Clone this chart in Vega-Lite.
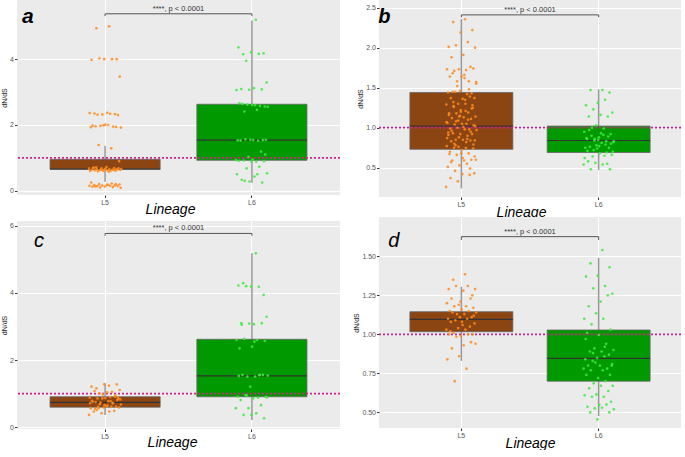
{
  "$schema": "https://vega.github.io/schema/vega-lite/v6.json",
  "padding": 0,
  "background": "#FFFFFF",
  "datasets": {
    "a_box": [
      {"lineage": "L5", "lo": 0.27, "q1": 0.65, "med": 0.66, "q3": 0.955, "hi": 1.36},
      {"lineage": "L6", "lo": 0.24, "q1": 0.925, "med": 1.54, "q3": 2.63, "hi": 5.18}
    ],
    "b_box": [
      {"lineage": "L5", "lo": 0.24, "q1": 0.73, "med": 1.02, "q3": 1.44, "hi": 2.355},
      {"lineage": "L6", "lo": 0.47, "q1": 0.69, "med": 0.84, "q3": 1.02, "hi": 1.48}
    ],
    "c_box": [
      {"lineage": "L5", "lo": 0.37, "q1": 0.6, "med": 0.74, "q3": 0.91, "hi": 1.31},
      {"lineage": "L6", "lo": 0.22, "q1": 0.91, "med": 1.53, "q3": 2.62, "hi": 5.18}
    ],
    "d_box": [
      {"lineage": "L5", "lo": 0.83, "q1": 1.017, "med": 1.096, "q3": 1.145, "hi": 1.305},
      {"lineage": "L6", "lo": 0.477, "q1": 0.70, "med": 0.846, "q3": 1.028, "hi": 1.49}
    ],
    "a_sig": [{"from": "L5", "to": "L6", "y": 5.38, "yend": 5.31, "label": "****, p < 0.0001"}],
    "b_sig": [{"from": "L5", "to": "L6", "y": 2.41, "yend": 2.38, "label": "****, p < 0.0001"}],
    "c_sig": [{"from": "L5", "to": "L6", "y": 5.77, "yend": 5.70, "label": "****, p < 0.0001"}],
    "d_sig": [{"from": "L5", "to": "L6", "y": 1.626, "yend": 1.605, "label": "****, p < 0.0001"}],
    "ref": [{"ref": 1}],
    "a_pts": [
      {"lineage":"L5","dnds":5.0},{"lineage":"L5","dnds":4.94},{"lineage":"L5","dnds":4.0},{"lineage":"L5","dnds":4.0},{"lineage":"L5","dnds":3.98},{"lineage":"L5","dnds":4.0},{"lineage":"L5","dnds":4.02},{"lineage":"L5","dnds":3.47},
      {"lineage":"L5","dnds":2.37},{"lineage":"L5","dnds":2.35},{"lineage":"L5","dnds":2.33},{"lineage":"L5","dnds":2.32},{"lineage":"L5","dnds":2.36},{"lineage":"L5","dnds":2.34},{"lineage":"L5","dnds":2.31},{"lineage":"L5","dnds":2.30},
      {"lineage":"L5","dnds":2.01},{"lineage":"L5","dnds":1.98},{"lineage":"L5","dnds":1.95},{"lineage":"L5","dnds":1.97},{"lineage":"L5","dnds":1.92},{"lineage":"L5","dnds":2.0},{"lineage":"L5","dnds":1.96},{"lineage":"L5","dnds":1.94},{"lineage":"L5","dnds":1.99},{"lineage":"L5","dnds":1.93},
      {"lineage":"L5","dnds":1.29},{"lineage":"L5","dnds":1.39},{"lineage":"L5","dnds":0.9},
      {"lineage":"L5","dnds":0.72},{"lineage":"L5","dnds":0.70},{"lineage":"L5","dnds":0.69},{"lineage":"L5","dnds":0.68},{"lineage":"L5","dnds":0.67},{"lineage":"L5","dnds":0.66},{"lineage":"L5","dnds":0.66},{"lineage":"L5","dnds":0.65},{"lineage":"L5","dnds":0.65},{"lineage":"L5","dnds":0.64},
      {"lineage":"L5","dnds":0.64},{"lineage":"L5","dnds":0.63},{"lineage":"L5","dnds":0.63},{"lineage":"L5","dnds":0.62},{"lineage":"L5","dnds":0.62},{"lineage":"L5","dnds":0.61},{"lineage":"L5","dnds":0.61},{"lineage":"L5","dnds":0.60},{"lineage":"L5","dnds":0.60},{"lineage":"L5","dnds":0.59},
      {"lineage":"L5","dnds":0.68},{"lineage":"L5","dnds":0.67},{"lineage":"L5","dnds":0.70},{"lineage":"L5","dnds":0.63},{"lineage":"L5","dnds":0.64},{"lineage":"L5","dnds":0.66},{"lineage":"L5","dnds":0.58},{"lineage":"L5","dnds":0.71},{"lineage":"L5","dnds":0.65},{"lineage":"L5","dnds":0.62},
      {"lineage":"L5","dnds":0.25},{"lineage":"L5","dnds":0.22},{"lineage":"L5","dnds":0.2},{"lineage":"L5","dnds":0.19},{"lineage":"L5","dnds":0.18},{"lineage":"L5","dnds":0.17},{"lineage":"L5","dnds":0.16},{"lineage":"L5","dnds":0.16},{"lineage":"L5","dnds":0.15},{"lineage":"L5","dnds":0.15},
      {"lineage":"L5","dnds":0.14},{"lineage":"L5","dnds":0.14},{"lineage":"L5","dnds":0.13},{"lineage":"L5","dnds":0.12},{"lineage":"L5","dnds":0.11},{"lineage":"L5","dnds":0.1},{"lineage":"L5","dnds":0.09},{"lineage":"L5","dnds":0.18},{"lineage":"L5","dnds":0.13},{"lineage":"L5","dnds":0.2},
      {"lineage":"L6","dnds":5.2},{"lineage":"L6","dnds":4.15},{"lineage":"L6","dnds":4.18},{"lineage":"L6","dnds":4.21},{"lineage":"L6","dnds":4.36},{"lineage":"L6","dnds":4.16},{"lineage":"L6","dnds":3.95},{"lineage":"L6","dnds":3.29},{"lineage":"L6","dnds":3.12},{"lineage":"L6","dnds":3.09},
      {"lineage":"L6","dnds":3.08},{"lineage":"L6","dnds":3.07},{"lineage":"L6","dnds":3.06},{"lineage":"L6","dnds":2.46},{"lineage":"L6","dnds":2.41},{"lineage":"L6","dnds":2.56},{"lineage":"L6","dnds":2.61},{"lineage":"L6","dnds":2.66},{"lineage":"L6","dnds":2.58},{"lineage":"L6","dnds":2.62},
      {"lineage":"L6","dnds":2.55},{"lineage":"L6","dnds":2.6},{"lineage":"L6","dnds":2.64},{"lineage":"L6","dnds":1.54},{"lineage":"L6","dnds":1.55},{"lineage":"L6","dnds":1.53},{"lineage":"L6","dnds":1.52},{"lineage":"L6","dnds":1.56},{"lineage":"L6","dnds":1.55},{"lineage":"L6","dnds":1.54},
      {"lineage":"L6","dnds":1.53},{"lineage":"L6","dnds":1.19},{"lineage":"L6","dnds":1.03},{"lineage":"L6","dnds":0.93},{"lineage":"L6","dnds":0.88},{"lineage":"L6","dnds":0.92},{"lineage":"L6","dnds":0.9},{"lineage":"L6","dnds":0.89},{"lineage":"L6","dnds":0.91},{"lineage":"L6","dnds":0.73},
      {"lineage":"L6","dnds":0.68},{"lineage":"L6","dnds":0.53},{"lineage":"L6","dnds":0.43},{"lineage":"L6","dnds":0.33},{"lineage":"L6","dnds":0.25},{"lineage":"L6","dnds":0.28},{"lineage":"L6","dnds":0.5},{"lineage":"L6","dnds":0.5},{"lineage":"L6","dnds":0.3},{"lineage":"L6","dnds":1.1},{"lineage":"L6","dnds":0.95}
    ],
    "b_pts": [
      {"lineage":"L5","dnds":2.355},{"lineage":"L5","dnds":2.32},{"lineage":"L5","dnds":2.22},{"lineage":"L5","dnds":2.19},{"lineage":"L5","dnds":2.01},{"lineage":"L5","dnds":2.07},{"lineage":"L5","dnds":2.03},{"lineage":"L5","dnds":2.0},{"lineage":"L5","dnds":1.91},{"lineage":"L5","dnds":1.88},
      {"lineage":"L5","dnds":1.76},{"lineage":"L5","dnds":1.73},{"lineage":"L5","dnds":1.73},{"lineage":"L5","dnds":1.72},{"lineage":"L5","dnds":1.71},{"lineage":"L5","dnds":1.74},{"lineage":"L5","dnds":1.64},{"lineage":"L5","dnds":1.64},{"lineage":"L5","dnds":1.58},{"lineage":"L5","dnds":1.58},
      {"lineage":"L5","dnds":1.57},{"lineage":"L5","dnds":1.66},{"lineage":"L5","dnds":1.45},{"lineage":"L5","dnds":1.43},{"lineage":"L5","dnds":1.46},{"lineage":"L5","dnds":1.44},{"lineage":"L5","dnds":1.42},{"lineage":"L5","dnds":1.45},{"lineage":"L5","dnds":1.37},{"lineage":"L5","dnds":1.36},
      {"lineage":"L5","dnds":1.37},{"lineage":"L5","dnds":1.39},{"lineage":"L5","dnds":1.30},{"lineage":"L5","dnds":1.29},{"lineage":"L5","dnds":1.30},{"lineage":"L5","dnds":1.27},{"lineage":"L5","dnds":1.25},{"lineage":"L5","dnds":1.2},{"lineage":"L5","dnds":1.18},{"lineage":"L5","dnds":1.19},
      {"lineage":"L5","dnds":1.18},{"lineage":"L5","dnds":1.14},{"lineage":"L5","dnds":1.13},{"lineage":"L5","dnds":1.12},{"lineage":"L5","dnds":1.11},{"lineage":"L5","dnds":1.14},{"lineage":"L5","dnds":1.06},{"lineage":"L5","dnds":1.05},{"lineage":"L5","dnds":1.04},{"lineage":"L5","dnds":1.03},
      {"lineage":"L5","dnds":1.05},{"lineage":"L5","dnds":0.99},{"lineage":"L5","dnds":0.98},{"lineage":"L5","dnds":1.0},{"lineage":"L5","dnds":0.97},{"lineage":"L5","dnds":0.98},{"lineage":"L5","dnds":0.93},{"lineage":"L5","dnds":0.92},{"lineage":"L5","dnds":0.92},{"lineage":"L5","dnds":0.91},
      {"lineage":"L5","dnds":0.90},{"lineage":"L5","dnds":0.85},{"lineage":"L5","dnds":0.84},{"lineage":"L5","dnds":0.85},{"lineage":"L5","dnds":0.83},{"lineage":"L5","dnds":0.84},{"lineage":"L5","dnds":0.76},{"lineage":"L5","dnds":0.77},{"lineage":"L5","dnds":0.75},{"lineage":"L5","dnds":0.75},
      {"lineage":"L5","dnds":0.74},{"lineage":"L5","dnds":0.68},{"lineage":"L5","dnds":0.67},{"lineage":"L5","dnds":0.68},{"lineage":"L5","dnds":0.66},{"lineage":"L5","dnds":0.60},{"lineage":"L5","dnds":0.59},{"lineage":"L5","dnds":0.59},{"lineage":"L5","dnds":0.60},{"lineage":"L5","dnds":0.53},
      {"lineage":"L5","dnds":0.51},{"lineage":"L5","dnds":0.55},{"lineage":"L5","dnds":0.46},{"lineage":"L5","dnds":0.43},{"lineage":"L5","dnds":0.42},{"lineage":"L5","dnds":0.37},{"lineage":"L5","dnds":0.41},{"lineage":"L5","dnds":0.33},{"lineage":"L5","dnds":0.26},{"lineage":"L5","dnds":1.35},
      {"lineage":"L5","dnds":1.32},{"lineage":"L5","dnds":1.28},{"lineage":"L5","dnds":1.22},{"lineage":"L5","dnds":1.16},{"lineage":"L5","dnds":1.10},{"lineage":"L5","dnds":1.08},{"lineage":"L5","dnds":1.02},{"lineage":"L5","dnds":1.01},{"lineage":"L5","dnds":0.96},{"lineage":"L5","dnds":0.95},
      {"lineage":"L5","dnds":0.88},{"lineage":"L5","dnds":0.87},{"lineage":"L5","dnds":0.82},{"lineage":"L5","dnds":0.80},{"lineage":"L5","dnds":0.79},{"lineage":"L5","dnds":0.72},{"lineage":"L5","dnds":0.70},{"lineage":"L5","dnds":1.48},{"lineage":"L5","dnds":1.52},{"lineage":"L5","dnds":1.55},
      {"lineage":"L5","dnds":1.62},{"lineage":"L5","dnds":1.68},{"lineage":"L5","dnds":1.24},{"lineage":"L5","dnds":1.15},{"lineage":"L5","dnds":0.94},{"lineage":"L5","dnds":0.86},{"lineage":"L5","dnds":0.78},{"lineage":"L5","dnds":0.64},{"lineage":"L5","dnds":0.62},{"lineage":"L5","dnds":0.57},
      {"lineage":"L5","dnds":0.49},{"lineage":"L5","dnds":1.09},{"lineage":"L5","dnds":1.07},{"lineage":"L5","dnds":1.21},{"lineage":"L5","dnds":1.26},
      {"lineage":"L6","dnds":1.47},{"lineage":"L6","dnds":1.47},{"lineage":"L6","dnds":1.44},{"lineage":"L6","dnds":1.31},{"lineage":"L6","dnds":1.28},{"lineage":"L6","dnds":1.35},{"lineage":"L6","dnds":1.23},{"lineage":"L6","dnds":1.19},{"lineage":"L6","dnds":1.16},{"lineage":"L6","dnds":1.14},
      {"lineage":"L6","dnds":1.14},{"lineage":"L6","dnds":1.03},{"lineage":"L6","dnds":0.95},{"lineage":"L6","dnds":0.91},{"lineage":"L6","dnds":0.90},{"lineage":"L6","dnds":0.92},{"lineage":"L6","dnds":0.88},{"lineage":"L6","dnds":0.86},{"lineage":"L6","dnds":0.83},{"lineage":"L6","dnds":0.84},
      {"lineage":"L6","dnds":0.82},{"lineage":"L6","dnds":0.81},{"lineage":"L6","dnds":0.76},{"lineage":"L6","dnds":0.75},{"lineage":"L6","dnds":0.74},{"lineage":"L6","dnds":0.75},{"lineage":"L6","dnds":0.65},{"lineage":"L6","dnds":0.64},{"lineage":"L6","dnds":0.66},{"lineage":"L6","dnds":0.68},
      {"lineage":"L6","dnds":0.58},{"lineage":"L6","dnds":0.55},{"lineage":"L6","dnds":0.56},{"lineage":"L6","dnds":0.54},{"lineage":"L6","dnds":0.54},{"lineage":"L6","dnds":0.48},{"lineage":"L6","dnds":0.48},{"lineage":"L6","dnds":0.85},{"lineage":"L6","dnds":0.87},{"lineage":"L6","dnds":0.79},
      {"lineage":"L6","dnds":0.72},{"lineage":"L6","dnds":0.70},{"lineage":"L6","dnds":0.93},{"lineage":"L6","dnds":0.97},{"lineage":"L6","dnds":0.89},{"lineage":"L6","dnds":0.78},{"lineage":"L6","dnds":0.62},{"lineage":"L6","dnds":0.99},{"lineage":"L6","dnds":1.0},{"lineage":"L6","dnds":0.80},
      {"lineage":"L6","dnds":0.77},{"lineage":"L6","dnds":0.71},{"lineage":"L6","dnds":0.69},{"lineage":"L6","dnds":0.86},{"lineage":"L6","dnds":0.83}
    ],
    "c_pts": [
      {"lineage":"L5","dnds":1.24},{"lineage":"L5","dnds":1.16},{"lineage":"L5","dnds":1.28},{"lineage":"L5","dnds":1.28},{"lineage":"L5","dnds":1.21},{"lineage":"L5","dnds":1.06},{"lineage":"L5","dnds":1.01},{"lineage":"L5","dnds":1.11},{"lineage":"L5","dnds":1.04},{"lineage":"L5","dnds":1.08},
      {"lineage":"L5","dnds":0.91},{"lineage":"L5","dnds":0.86},{"lineage":"L5","dnds":0.88},{"lineage":"L5","dnds":0.90},{"lineage":"L5","dnds":0.86},{"lineage":"L5","dnds":0.89},{"lineage":"L5","dnds":0.87},{"lineage":"L5","dnds":0.76},{"lineage":"L5","dnds":0.71},{"lineage":"L5","dnds":0.74},
      {"lineage":"L5","dnds":0.68},{"lineage":"L5","dnds":0.77},{"lineage":"L5","dnds":0.75},{"lineage":"L5","dnds":0.62},{"lineage":"L5","dnds":0.59},{"lineage":"L5","dnds":0.57},{"lineage":"L5","dnds":0.62},{"lineage":"L5","dnds":0.57},{"lineage":"L5","dnds":0.59},{"lineage":"L5","dnds":0.63},
      {"lineage":"L5","dnds":0.47},{"lineage":"L5","dnds":0.49},{"lineage":"L5","dnds":0.42},{"lineage":"L5","dnds":0.37},{"lineage":"L5","dnds":0.47},{"lineage":"L5","dnds":0.52},{"lineage":"L5","dnds":0.81},{"lineage":"L5","dnds":0.66},{"lineage":"L5","dnds":0.79},{"lineage":"L5","dnds":0.73},
      {"lineage":"L5","dnds":0.69},{"lineage":"L5","dnds":0.83},{"lineage":"L5","dnds":0.65},{"lineage":"L5","dnds":0.55},{"lineage":"L5","dnds":0.95},{"lineage":"L5","dnds":0.98},{"lineage":"L5","dnds":0.72},{"lineage":"L5","dnds":0.78},{"lineage":"L5","dnds":0.61},{"lineage":"L5","dnds":0.85},
      {"lineage":"L6","dnds":5.18},{"lineage":"L6","dnds":4.29},{"lineage":"L6","dnds":3.94},{"lineage":"L6","dnds":4.19},{"lineage":"L6","dnds":4.22},{"lineage":"L6","dnds":4.18},{"lineage":"L6","dnds":4.2},{"lineage":"L6","dnds":3.29},{"lineage":"L6","dnds":3.07},{"lineage":"L6","dnds":3.1},
      {"lineage":"L6","dnds":3.1},{"lineage":"L6","dnds":3.09},{"lineage":"L6","dnds":2.6},{"lineage":"L6","dnds":2.6},{"lineage":"L6","dnds":2.63},{"lineage":"L6","dnds":2.57},{"lineage":"L6","dnds":2.4},{"lineage":"L6","dnds":2.35},{"lineage":"L6","dnds":1.56},{"lineage":"L6","dnds":1.51},
      {"lineage":"L6","dnds":1.54},{"lineage":"L6","dnds":1.51},{"lineage":"L6","dnds":1.56},{"lineage":"L6","dnds":1.56},{"lineage":"L6","dnds":1.21},{"lineage":"L6","dnds":0.91},{"lineage":"L6","dnds":0.88},{"lineage":"L6","dnds":0.96},{"lineage":"L6","dnds":0.91},{"lineage":"L6","dnds":0.86},
      {"lineage":"L6","dnds":0.81},{"lineage":"L6","dnds":0.66},{"lineage":"L6","dnds":0.57},{"lineage":"L6","dnds":0.57},{"lineage":"L6","dnds":0.42},{"lineage":"L6","dnds":0.37},{"lineage":"L6","dnds":0.27},{"lineage":"L6","dnds":0.37},{"lineage":"L6","dnds":1.53},{"lineage":"L6","dnds":1.55},
      {"lineage":"L6","dnds":0.95},{"lineage":"L6","dnds":0.89},{"lineage":"L6","dnds":2.55},{"lineage":"L6","dnds":3.05}
    ],
    "d_pts": [
      {"lineage":"L5","dnds":1.385},{"lineage":"L5","dnds":1.35},{"lineage":"L5","dnds":1.25},{"lineage":"L5","dnds":1.21},{"lineage":"L5","dnds":1.29},{"lineage":"L5","dnds":1.31},{"lineage":"L5","dnds":1.31},{"lineage":"L5","dnds":1.29},{"lineage":"L5","dnds":1.28},{"lineage":"L5","dnds":1.23},
      {"lineage":"L5","dnds":1.23},{"lineage":"L5","dnds":1.19},{"lineage":"L5","dnds":1.2},{"lineage":"L5","dnds":1.18},{"lineage":"L5","dnds":1.18},{"lineage":"L5","dnds":1.17},{"lineage":"L5","dnds":1.16},{"lineage":"L5","dnds":1.15},{"lineage":"L5","dnds":1.15},{"lineage":"L5","dnds":1.13},
      {"lineage":"L5","dnds":1.14},{"lineage":"L5","dnds":1.13},{"lineage":"L5","dnds":1.14},{"lineage":"L5","dnds":1.11},{"lineage":"L5","dnds":1.11},{"lineage":"L5","dnds":1.10},{"lineage":"L5","dnds":1.10},{"lineage":"L5","dnds":1.09},{"lineage":"L5","dnds":1.07},{"lineage":"L5","dnds":1.06},
      {"lineage":"L5","dnds":1.08},{"lineage":"L5","dnds":1.05},{"lineage":"L5","dnds":1.04},{"lineage":"L5","dnds":1.03},{"lineage":"L5","dnds":1.03},{"lineage":"L5","dnds":1.01},{"lineage":"L5","dnds":1.0},{"lineage":"L5","dnds":0.99},{"lineage":"L5","dnds":1.0},{"lineage":"L5","dnds":1.0},
      {"lineage":"L5","dnds":0.985},{"lineage":"L5","dnds":0.94},{"lineage":"L5","dnds":0.93},{"lineage":"L5","dnds":0.91},{"lineage":"L5","dnds":0.95},{"lineage":"L5","dnds":0.86},{"lineage":"L5","dnds":0.84},{"lineage":"L5","dnds":0.78},{"lineage":"L5","dnds":0.70},{"lineage":"L5","dnds":1.12},
      {"lineage":"L5","dnds":1.08},{"lineage":"L5","dnds":1.02},
      {"lineage":"L6","dnds":1.54},{"lineage":"L6","dnds":1.455},{"lineage":"L6","dnds":1.43},{"lineage":"L6","dnds":1.376},{"lineage":"L6","dnds":1.37},{"lineage":"L6","dnds":1.31},{"lineage":"L6","dnds":1.295},{"lineage":"L6","dnds":1.26},{"lineage":"L6","dnds":1.21},{"lineage":"L6","dnds":1.18},
      {"lineage":"L6","dnds":1.25},{"lineage":"L6","dnds":1.135},{"lineage":"L6","dnds":1.10},{"lineage":"L6","dnds":1.10},{"lineage":"L6","dnds":1.064},{"lineage":"L6","dnds":1.03},{"lineage":"L6","dnds":0.996},{"lineage":"L6","dnds":1.01},{"lineage":"L6","dnds":0.94},{"lineage":"L6","dnds":0.91},
      {"lineage":"L6","dnds":0.90},{"lineage":"L6","dnds":0.89},{"lineage":"L6","dnds":0.89},{"lineage":"L6","dnds":0.87},{"lineage":"L6","dnds":0.85},{"lineage":"L6","dnds":0.84},{"lineage":"L6","dnds":0.86},{"lineage":"L6","dnds":0.83},{"lineage":"L6","dnds":0.80},{"lineage":"L6","dnds":0.80},
      {"lineage":"L6","dnds":0.80},{"lineage":"L6","dnds":0.78},{"lineage":"L6","dnds":0.82},{"lineage":"L6","dnds":0.78},{"lineage":"L6","dnds":0.77},{"lineage":"L6","dnds":0.77},{"lineage":"L6","dnds":0.74},{"lineage":"L6","dnds":0.72},{"lineage":"L6","dnds":0.74},{"lineage":"L6","dnds":0.70},
      {"lineage":"L6","dnds":0.686},{"lineage":"L6","dnds":0.67},{"lineage":"L6","dnds":0.67},{"lineage":"L6","dnds":0.654},{"lineage":"L6","dnds":0.637},{"lineage":"L6","dnds":0.615},{"lineage":"L6","dnds":0.61},{"lineage":"L6","dnds":0.60},{"lineage":"L6","dnds":0.60},{"lineage":"L6","dnds":0.568},
      {"lineage":"L6","dnds":0.547},{"lineage":"L6","dnds":0.536},{"lineage":"L6","dnds":0.55},{"lineage":"L6","dnds":0.526},{"lineage":"L6","dnds":0.52},{"lineage":"L6","dnds":0.53},{"lineage":"L6","dnds":0.50},{"lineage":"L6","dnds":0.50},{"lineage":"L6","dnds":0.455},{"lineage":"L6","dnds":0.97},
      {"lineage":"L6","dnds":0.92},{"lineage":"L6","dnds":0.88},{"lineage":"L6","dnds":0.81}
    ]
  },
  "hconcat": [
    {
      "bounds": "flush",
      "spacing": 26,
      "vconcat": [
        {
          "width": 323, "height": 195,
          "resolve": {"scale": {"x": "independent", "xOffset": "independent"}},
          "layer": [
            {"layer": [
              {"data": {"name": "a_box"}, "mark": {"type": "rule", "color": "#999999", "strokeWidth": 1.5},
               "encoding": {
                 "x": {"field": "lineage", "type": "nominal", "scale": {"domain": ["L5", "L6"], "paddingInner": 0.25, "paddingOuter": 0.225},
                       "axis": {"title": "Lineage", "labelAngle": 0, "labelColor": "#555555", "grid": true, "bandPosition": 0.5, "titleX": 153, "titleY": 18, "titleBaseline": "alphabetic"}},
                 "y": {"field": "lo", "type": "quantitative", "scale": {"domain": [-0.13, 5.8], "nice": false, "zero": false},
                       "axis": {"title": "dN/dS", "values": [0, 1, 2, 3, 4, 5], "labelExpr": "datum.value % 2 == 0 ? datum.label : ''",
                                "tickOpacity": {"condition": {"test": "datum.value % 2 != 0", "value": 0}, "value": 1},
                                "gridWidth": {"condition": {"test": "datum.value % 2 != 0", "value": 0.5}, "value": 1}}},
                 "y2": {"field": "hi"}}},
              {"data": {"name": "a_box"}, "mark": {"type": "bar", "stroke": "#666666", "strokeWidth": 0.8},
               "encoding": {"x": {"field": "lineage", "type": "nominal"}, "y": {"field": "q1", "type": "quantitative"}, "y2": {"field": "q3"},
                            "color": {"field": "lineage", "type": "nominal", "scale": {"domain": ["L5", "L6"], "range": ["#8B4513", "#009A00"]}, "legend": null}}},
              {"data": {"name": "a_box"}, "mark": {"type": "bar", "fill": "#333333", "stroke": "#333333", "strokeWidth": 1.2},
               "encoding": {"x": {"field": "lineage", "type": "nominal"}, "y": {"field": "med", "type": "quantitative"}, "y2": {"field": "med"}}},
              {"data": {"name": "ref"}, "mark": {"type": "rule", "color": "#D0208A", "strokeWidth": 1.8, "strokeDash": [2, 2]},
               "encoding": {"y": {"field": "ref", "type": "quantitative"}}},
              {"data": {"name": "a_sig"}, "transform": [{"fold": ["from", "to"], "as": ["end", "lin"]}], "mark": {"type": "rule", "color": "#555555", "strokeWidth": 1},
               "encoding": {"x": {"field": "lin", "type": "nominal"}, "y": {"field": "y", "type": "quantitative"}, "y2": {"field": "yend"}}},
              {"data": {"name": "a_sig"}, "mark": {"type": "rule", "color": "#555555", "strokeWidth": 1},
               "encoding": {"x": {"field": "from", "type": "nominal"}, "x2": {"field": "to"}, "y": {"field": "y", "type": "quantitative"}}},
              {"data": {"name": "a_sig"}, "mark": {"type": "text", "font": "Liberation Sans", "fontSize": 7.5, "color": "#333333", "baseline": "bottom", "dy": -1},
               "encoding": {"y": {"field": "y", "type": "quantitative"}, "text": {"field": "label"}}},
              {"data": {"name": "ref"}, "mark": {"type": "text", "font": "Liberation Sans", "fontSize": 21, "fontStyle": "italic", "fontWeight": "bold", "color": "#000000", "align": "left", "baseline": "alphabetic", "dx": -83},
               "encoding": {"x": {"datum": "L5"}, "y": {"datum": 5.1}, "text": {"value": "a"}}}
            ]},
            {"data": {"name": "a_pts"},
             "transform": [{"window": [{"op": "row_number", "as": "i"}], "groupby": ["lineage"]}, {"calculate": "((datum.i * 0.618034) % 1 - 0.5) * 0.3", "as": "jit"}],
             "mark": {"type": "circle", "size": 7, "opacity": 0.85},
             "encoding": {"x": {"field": "lineage", "type": "nominal", "scale": {"domain": ["L5", "L6"], "paddingInner": 0.25, "paddingOuter": 0.225}, "axis": null},
                          "xOffset": {"field": "jit", "type": "quantitative", "scale": {"domain": [-0.5, 0.5]}},
                          "y": {"field": "dnds", "type": "quantitative"},
                          "fill": {"field": "lineage", "type": "nominal", "scale": {"domain": ["L5", "L6"], "range": ["#FF8A1C", "#3DEB3D"]}, "legend": null}}}
          ]
        },
        {
          "width": 323, "height": 208,
          "resolve": {"scale": {"x": "independent", "xOffset": "independent"}},
          "layer": [
            {"layer": [
              {"data": {"name": "c_box"}, "mark": {"type": "rule", "color": "#999999", "strokeWidth": 1.5},
               "encoding": {
                 "x": {"field": "lineage", "type": "nominal", "scale": {"domain": ["L5", "L6"], "paddingInner": 0.25, "paddingOuter": 0.225},
                       "axis": {"title": "Lineage", "labelAngle": 0, "labelColor": "#555555", "grid": true, "bandPosition": 0.5, "titleX": 155, "titleY": 17, "titleBaseline": "alphabetic"}},
                 "y": {"field": "lo", "type": "quantitative", "scale": {"domain": [-0.05, 6.14], "nice": false, "zero": false},
                       "axis": {"title": "dN/dS", "values": [0, 1, 2, 3, 4, 5, 6], "labelExpr": "datum.value % 2 == 0 ? datum.label : ''",
                                "tickOpacity": {"condition": {"test": "datum.value % 2 != 0", "value": 0}, "value": 1},
                                "gridWidth": {"condition": {"test": "datum.value % 2 != 0", "value": 0.5}, "value": 1}}},
                 "y2": {"field": "hi"}}},
              {"data": {"name": "c_box"}, "mark": {"type": "bar", "stroke": "#666666", "strokeWidth": 0.8},
               "encoding": {"x": {"field": "lineage", "type": "nominal"}, "y": {"field": "q1", "type": "quantitative"}, "y2": {"field": "q3"},
                            "color": {"field": "lineage", "type": "nominal", "scale": {"domain": ["L5", "L6"], "range": ["#8B4513", "#009A00"]}, "legend": null}}},
              {"data": {"name": "c_box"}, "mark": {"type": "bar", "fill": "#333333", "stroke": "#333333", "strokeWidth": 1.2},
               "encoding": {"x": {"field": "lineage", "type": "nominal"}, "y": {"field": "med", "type": "quantitative"}, "y2": {"field": "med"}}},
              {"data": {"name": "ref"}, "mark": {"type": "rule", "color": "#D0208A", "strokeWidth": 1.8, "strokeDash": [2, 2]},
               "encoding": {"y": {"field": "ref", "type": "quantitative"}}},
              {"data": {"name": "c_sig"}, "transform": [{"fold": ["from", "to"], "as": ["end", "lin"]}], "mark": {"type": "rule", "color": "#555555", "strokeWidth": 1},
               "encoding": {"x": {"field": "lin", "type": "nominal"}, "y": {"field": "y", "type": "quantitative"}, "y2": {"field": "yend"}}},
              {"data": {"name": "c_sig"}, "mark": {"type": "rule", "color": "#555555", "strokeWidth": 1},
               "encoding": {"x": {"field": "from", "type": "nominal"}, "x2": {"field": "to"}, "y": {"field": "y", "type": "quantitative"}}},
              {"data": {"name": "c_sig"}, "mark": {"type": "text", "font": "Liberation Sans", "fontSize": 7.5, "color": "#333333", "baseline": "bottom", "dy": -1},
               "encoding": {"y": {"field": "y", "type": "quantitative"}, "text": {"field": "label"}}},
              {"data": {"name": "ref"}, "mark": {"type": "text", "font": "Liberation Sans", "fontSize": 20, "fontStyle": "italic", "fontWeight": "normal", "color": "#000000", "align": "left", "baseline": "alphabetic", "dx": -71},
               "encoding": {"x": {"datum": "L5"}, "y": {"datum": 5.375}, "text": {"value": "c"}}}
            ]},
            {"data": {"name": "c_pts"},
             "transform": [{"window": [{"op": "row_number", "as": "i"}], "groupby": ["lineage"]}, {"calculate": "((datum.i * 0.618034) % 1 - 0.5) * 0.3", "as": "jit"}],
             "mark": {"type": "circle", "size": 7, "opacity": 0.85},
             "encoding": {"x": {"field": "lineage", "type": "nominal", "scale": {"domain": ["L5", "L6"], "paddingInner": 0.25, "paddingOuter": 0.225}, "axis": null},
                          "xOffset": {"field": "jit", "type": "quantitative", "scale": {"domain": [-0.5, 0.5]}},
                          "y": {"field": "dnds", "type": "quantitative"},
                          "fill": {"field": "lineage", "type": "nominal", "scale": {"domain": ["L5", "L6"], "range": ["#FF8A1C", "#3DEB3D"]}, "legend": null}}}
          ]
        }
      ]
    },
    {
      "bounds": "flush",
      "spacing": 20,
      "vconcat": [
        {
          "width": 302, "height": 197,
          "resolve": {"scale": {"x": "independent", "xOffset": "independent"}},
          "layer": [
            {"layer": [
              {"data": {"name": "b_box"}, "mark": {"type": "rule", "color": "#999999", "strokeWidth": 1.5},
               "encoding": {
                 "x": {"field": "lineage", "type": "nominal", "scale": {"domain": ["L5", "L6"], "paddingInner": 0.25, "paddingOuter": 0.225},
                       "axis": {"title": "Lineage", "labelAngle": 0, "labelColor": "#555555", "grid": true, "bandPosition": 0.5, "titleX": 142, "titleY": 19.5, "titleBaseline": "alphabetic"}},
                 "y": {"field": "lo", "type": "quantitative", "scale": {"domain": [0.134, 2.596], "nice": false, "zero": false},
                       "axis": {"title": "dN/dS", "values": [0.5, 1, 1.5, 2, 2.5], "format": ".1f"}},
                 "y2": {"field": "hi"}}},
              {"data": {"name": "b_box"}, "mark": {"type": "bar", "stroke": "#666666", "strokeWidth": 0.8},
               "encoding": {"x": {"field": "lineage", "type": "nominal"}, "y": {"field": "q1", "type": "quantitative"}, "y2": {"field": "q3"},
                            "color": {"field": "lineage", "type": "nominal", "scale": {"domain": ["L5", "L6"], "range": ["#8B4513", "#009A00"]}, "legend": null}}},
              {"data": {"name": "b_box"}, "mark": {"type": "bar", "fill": "#333333", "stroke": "#333333", "strokeWidth": 1.2},
               "encoding": {"x": {"field": "lineage", "type": "nominal"}, "y": {"field": "med", "type": "quantitative"}, "y2": {"field": "med"}}},
              {"data": {"name": "ref"}, "mark": {"type": "rule", "color": "#D0208A", "strokeWidth": 1.8, "strokeDash": [2, 2]},
               "encoding": {"y": {"field": "ref", "type": "quantitative"}}},
              {"data": {"name": "b_sig"}, "transform": [{"fold": ["from", "to"], "as": ["end", "lin"]}], "mark": {"type": "rule", "color": "#555555", "strokeWidth": 1},
               "encoding": {"x": {"field": "lin", "type": "nominal"}, "y": {"field": "y", "type": "quantitative"}, "y2": {"field": "yend"}}},
              {"data": {"name": "b_sig"}, "mark": {"type": "rule", "color": "#555555", "strokeWidth": 1},
               "encoding": {"x": {"field": "from", "type": "nominal"}, "x2": {"field": "to"}, "y": {"field": "y", "type": "quantitative"}}},
              {"data": {"name": "b_sig"}, "mark": {"type": "text", "font": "Liberation Sans", "fontSize": 7.5, "color": "#333333", "baseline": "bottom", "dy": -1},
               "encoding": {"y": {"field": "y", "type": "quantitative"}, "text": {"field": "label"}}},
              {"data": {"name": "ref"}, "mark": {"type": "text", "font": "Liberation Sans", "fontSize": 20, "fontStyle": "italic", "fontWeight": "bold", "color": "#000000", "align": "left", "baseline": "alphabetic", "dx": -83},
               "encoding": {"x": {"datum": "L5"}, "y": {"datum": 2.305}, "text": {"value": "b"}}}
            ]},
            {"data": {"name": "b_pts"},
             "transform": [{"window": [{"op": "row_number", "as": "i"}], "groupby": ["lineage"]}, {"calculate": "((datum.i * 0.618034) % 1 - 0.5) * 0.3", "as": "jit"}],
             "mark": {"type": "circle", "size": 7, "opacity": 0.85},
             "encoding": {"x": {"field": "lineage", "type": "nominal", "scale": {"domain": ["L5", "L6"], "paddingInner": 0.25, "paddingOuter": 0.225}, "axis": null},
                          "xOffset": {"field": "jit", "type": "quantitative", "scale": {"domain": [-0.5, 0.5]}},
                          "y": {"field": "dnds", "type": "quantitative"},
                          "fill": {"field": "lineage", "type": "nominal", "scale": {"domain": ["L5", "L6"], "range": ["#FF8A1C", "#3DEB3D"]}, "legend": null}}}
          ]
        },
        {
          "width": 302, "height": 211,
          "resolve": {"scale": {"x": "independent", "xOffset": "independent"}},
          "layer": [
            {"layer": [
              {"data": {"name": "d_box"}, "mark": {"type": "rule", "color": "#999999", "strokeWidth": 1.5},
               "encoding": {
                 "x": {"field": "lineage", "type": "nominal", "scale": {"domain": ["L5", "L6"], "paddingInner": 0.25, "paddingOuter": 0.225},
                       "axis": {"title": "Lineage", "labelAngle": 0, "labelColor": "#555555", "grid": true, "bandPosition": 0.5, "titleX": 151, "titleY": 19, "titleBaseline": "alphabetic"}},
                 "y": {"field": "lo", "type": "quantitative", "scale": {"domain": [0.40, 1.752], "nice": false, "zero": false},
                       "axis": {"title": "dN/dS", "values": [0.5, 0.625, 0.75, 0.875, 1, 1.125, 1.25, 1.375, 1.5, 1.625], "labelExpr": "(datum.value * 4) % 1 == 0 ? format(datum.value, '.2f') : ''",
                                "tickOpacity": {"condition": {"test": "(datum.value * 4) % 1 != 0", "value": 0}, "value": 1},
                                "gridWidth": {"condition": {"test": "(datum.value * 4) % 1 != 0", "value": 0.5}, "value": 1}}},
                 "y2": {"field": "hi"}}},
              {"data": {"name": "d_box"}, "mark": {"type": "bar", "stroke": "#666666", "strokeWidth": 0.8},
               "encoding": {"x": {"field": "lineage", "type": "nominal"}, "y": {"field": "q1", "type": "quantitative"}, "y2": {"field": "q3"},
                            "color": {"field": "lineage", "type": "nominal", "scale": {"domain": ["L5", "L6"], "range": ["#8B4513", "#009A00"]}, "legend": null}}},
              {"data": {"name": "d_box"}, "mark": {"type": "bar", "fill": "#333333", "stroke": "#333333", "strokeWidth": 1.2},
               "encoding": {"x": {"field": "lineage", "type": "nominal"}, "y": {"field": "med", "type": "quantitative"}, "y2": {"field": "med"}}},
              {"data": {"name": "ref"}, "mark": {"type": "rule", "color": "#D0208A", "strokeWidth": 1.8, "strokeDash": [2, 2]},
               "encoding": {"y": {"field": "ref", "type": "quantitative"}}},
              {"data": {"name": "d_sig"}, "transform": [{"fold": ["from", "to"], "as": ["end", "lin"]}], "mark": {"type": "rule", "color": "#555555", "strokeWidth": 1},
               "encoding": {"x": {"field": "lin", "type": "nominal"}, "y": {"field": "y", "type": "quantitative"}, "y2": {"field": "yend"}}},
              {"data": {"name": "d_sig"}, "mark": {"type": "rule", "color": "#555555", "strokeWidth": 1},
               "encoding": {"x": {"field": "from", "type": "nominal"}, "x2": {"field": "to"}, "y": {"field": "y", "type": "quantitative"}}},
              {"data": {"name": "d_sig"}, "mark": {"type": "text", "font": "Liberation Sans", "fontSize": 7.5, "color": "#333333", "baseline": "bottom", "dy": -1},
               "encoding": {"y": {"field": "y", "type": "quantitative"}, "text": {"field": "label"}}},
              {"data": {"name": "ref"}, "mark": {"type": "text", "font": "Liberation Sans", "fontSize": 20, "fontStyle": "italic", "fontWeight": "normal", "color": "#000000", "align": "left", "baseline": "alphabetic", "dx": -73},
               "encoding": {"x": {"datum": "L5"}, "y": {"datum": 1.562}, "text": {"value": "d"}}}
            ]},
            {"data": {"name": "d_pts"},
             "transform": [{"window": [{"op": "row_number", "as": "i"}], "groupby": ["lineage"]}, {"calculate": "((datum.i * 0.618034) % 1 - 0.5) * 0.3", "as": "jit"}],
             "mark": {"type": "circle", "size": 7, "opacity": 0.85},
             "encoding": {"x": {"field": "lineage", "type": "nominal", "scale": {"domain": ["L5", "L6"], "paddingInner": 0.25, "paddingOuter": 0.225}, "axis": null},
                          "xOffset": {"field": "jit", "type": "quantitative", "scale": {"domain": [-0.5, 0.5]}},
                          "y": {"field": "dnds", "type": "quantitative"},
                          "fill": {"field": "lineage", "type": "nominal", "scale": {"domain": ["L5", "L6"], "range": ["#FF8A1C", "#3DEB3D"]}, "legend": null}}}
          ]
        }
      ]
    }
  ],
  "spacing": 11,
  "config": {
    "view": {"fill": "#EBEBEB", "stroke": null},
    "axis": {"domain": false, "gridColor": "#FFFFFF", "tickColor": "#333333", "tickSize": 2.5, "labelFont": "Liberation Sans", "labelFontSize": 7, "labelColor": "#555555", "labelPadding": 1,
             "titleFont": "Liberation Sans", "titleFontSize": 7, "titleFontWeight": "normal", "titleColor": "#222222", "titlePadding": 2},
    "axisX": {"titleFont": "Liberation Sans", "titleFontSize": 14, "titleFontStyle": "italic", "titleColor": "#000000", "titleAlign": "center"}
  }
}
